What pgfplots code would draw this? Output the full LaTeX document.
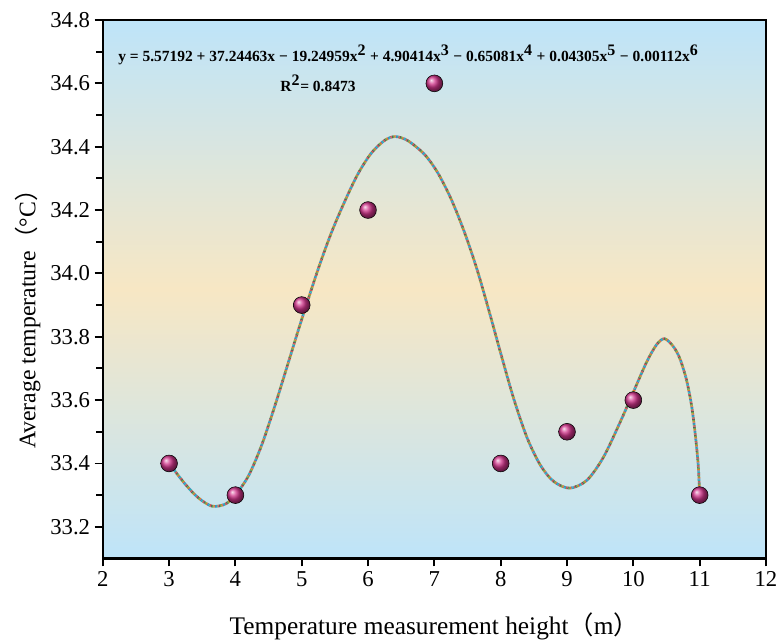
\documentclass[border=0pt]{standalone}
\usepackage{pgfplots}
\pgfplotsset{compat=1.18}
\usepackage{pgfplotstable}
\usepackage{fontspec}
\setmainfont{Liberation Serif}
\newfontfamily\cjk{Noto Sans CJK SC}
\newfontfamily\tickfont{Liberation Serif}
\definecolor{bgblue}{RGB}{190,228,249}
\definecolor{bgorange}{RGB}{247,231,196}
\definecolor{ballc}{RGB}{208,52,138}
\definecolor{c1}{RGB}{78,121,199}
\definecolor{c2}{RGB}{224,123,42}
\definecolor{c3}{RGB}{106,170,75}
\definecolor{c4}{RGB}{95,95,95}
\definecolor{c5}{RGB}{217,83,79}
\definecolor{c6}{RGB}{41,179,179}

\pgfplotstableread{
x y
3 33.4
4 33.3
5 33.9
6 34.2
7 34.6
8 33.4
9 33.5
10 33.6
11 33.3
}\pts

\pgfplotstableread{
x y
3.00 33.400
3.25 33.333
3.45 33.290
3.65 33.265
3.85 33.272
4.00 33.300
4.20 33.362
4.40 33.460
4.60 33.585
4.80 33.720
5.00 33.855
5.25 34.015
5.45 34.130
5.65 34.228
5.85 34.315
6.05 34.380
6.25 34.420
6.41 34.432
6.60 34.419
6.85 34.376
7.05 34.318
7.25 34.236
7.45 34.132
7.65 34.008
7.85 33.862
8.00 33.748
8.20 33.602
8.40 33.480
8.60 33.394
8.80 33.343
9.04 33.322
9.30 33.347
9.55 33.420
9.80 33.530
10.00 33.625
10.20 33.720
10.35 33.775
10.47 33.794
10.60 33.770
10.70 33.732
10.80 33.665
10.88 33.580
10.94 33.480
10.98 33.390
11.00 33.300
}\curve

\begin{document}
\begin{tikzpicture}
\begin{axis}[
  name=ax, at={(0,0)}, anchor=south west,
  scale only axis, width=497pt, height=403.5pt,
  xmin=2, xmax=12, ymin=33.1, ymax=34.8,
  xtick={2,3,4,5,6,7,8,9,10,11,12},
  xticklabels={2,3,4,5,6,7,8,9,10,11,12},
  ytick={33.2,33.4,33.6,33.8,34.0,34.2,34.4,34.6,34.8},
  yticklabels={33.2,33.4,33.6,33.8,34.0,34.2,34.4,34.6,34.8},
  minor y tick num=1,
  xtick pos=left, ytick pos=left, tick align=outside,
  major tick length=6pt, minor tick length=5pt,
  every tick/.style={black, line width=1.4pt},
  axis line style={line width=1.8pt},
  axis background/.style={shade, top color=bgblue, bottom color=bgblue, middle color=bgorange},
  tick label style={font=\tickfont\fontsize{17}{19}\selectfont},
  xlabel={Temperature measurement height{\cjk （}m{\cjk ）}},
  ylabel={Average temperature{\cjk （}°C{\cjk ）}},
  every axis x label/.style={at={(axis description cs:0.5,-0.126)}, anchor=center, font=\rmfamily\fontsize{19}{22}\selectfont},
  every axis y label/.style={at={(axis description cs:-0.113,0.455)}, anchor=center, rotate=90, font=\rmfamily\fontsize{17.8}{20}\selectfont},
  clip=false,
]
\addplot[only marks, mark=ball, mark size=6.3pt, mark options={ball color=ballc}] table[x=x,y=y]{\pts};
\addplot[smooth, line width=2pt, c1, dash pattern=on 1pt off 5pt, dash phase=0pt] table[x=x,y=y]{\curve};
\addplot[smooth, line width=2pt, c2, dash pattern=on 1pt off 5pt, dash phase=1pt] table[x=x,y=y]{\curve};
\addplot[smooth, line width=2pt, c3, dash pattern=on 1pt off 5pt, dash phase=2pt] table[x=x,y=y]{\curve};
\addplot[smooth, line width=2pt, c4, dash pattern=on 1pt off 5pt, dash phase=3pt] table[x=x,y=y]{\curve};
\addplot[smooth, line width=2pt, c5, dash pattern=on 1pt off 5pt, dash phase=4pt] table[x=x,y=y]{\curve};
\addplot[smooth, line width=2pt, c6, dash pattern=on 1pt off 5pt, dash phase=5pt] table[x=x,y=y]{\curve};
\node[anchor=west, font=\bfseries\fontsize{11.6}{14}\selectfont, inner sep=0pt] at (axis cs:2.23,34.691)
  {y = 5.57192 + 37.24463x − 19.24959x\textsuperscript{\large 2} + 4.90414x\textsuperscript{\large 3} − 0.65081x\textsuperscript{\large 4} + 0.04305x\textsuperscript{\large 5} − 0.00112x\textsuperscript{\large 6}};
\node[anchor=west, font=\bfseries\fontsize{11.6}{14}\selectfont, inner sep=0pt] at (axis cs:4.675,34.60)
  {R\textsuperscript{\large 2}= 0.8473};
\end{axis}
\pgfresetboundingbox
\path[use as bounding box] (-77pt,-62pt) rectangle (509pt,418.5pt);
\end{tikzpicture}
\end{document}
